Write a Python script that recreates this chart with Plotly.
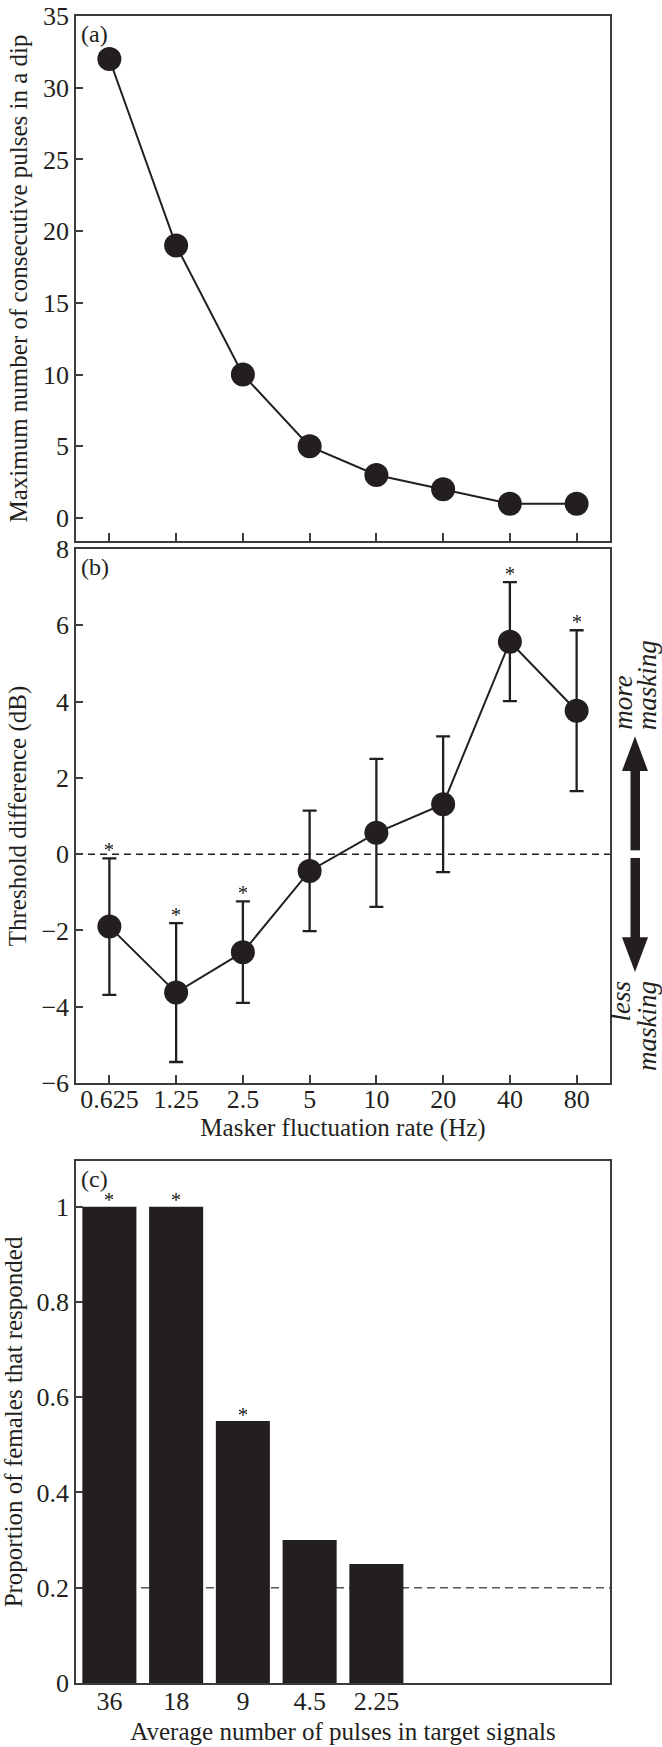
import plotly.graph_objects as go

# ---------------- data ----------------
rates = ["0.625", "1.25", "2.5", "5", "10", "20", "40", "80"]
max_pulses = [32, 19, 10, 5, 3, 2, 1, 1]

thresh_diff = [-1.90, -3.63, -2.57, -0.44, 0.56, 1.31, 5.57, 3.76]
thresh_err = [1.79, 1.82, 1.33, 1.58, 1.94, 1.78, 1.56, 2.11]
thresh_sig = [True, True, True, False, False, False, True, True]

pulses = ["36", "18", "9", "4.5", "2.25"]
prop_resp = [1.0, 1.0, 0.55, 0.30, 0.25]
prop_sig = [True, True, True, False, False]
chance_level = 0.2

# ---------------- style ----------------
W, H = 662, 1747
ML, MR, MT, MB = 76, 52, 16, 64
INK = "#231f20"
AX = "#3c3c3c"
FONT = "Liberation Serif"
TICK_SIZE = 26
TITLE_SIZE = 25

plot_h = H - MT - MB


def py(pix):
    return (H - MB - pix) / plot_h


def px(pix):
    return (pix - ML) / (W - ML - MR)


dom_a = [py(541), 1.0]
dom_b = [py(1083), py(549)]
dom_c = [0.0, py(1161)]

fig = go.Figure()

# panel (a)
fig.add_trace(go.Scatter(
    x=rates, y=max_pulses, mode="lines+markers",
    line=dict(color=INK, width=2),
    marker=dict(color=INK, size=24),
    xaxis="x", yaxis="y", showlegend=False))

# panel (b)
fig.add_trace(go.Scatter(
    x=rates, y=thresh_diff, mode="lines+markers",
    line=dict(color=INK, width=2),
    marker=dict(color=INK, size=24),
    error_y=dict(type="data", array=thresh_err, visible=True,
                 color=INK, thickness=2.3, width=7),
    xaxis="x2", yaxis="y2", showlegend=False))

# panel (c)
fig.add_trace(go.Bar(
    x=pulses, y=prop_resp, marker=dict(color=INK, line=dict(width=0)),
    width=0.81, xaxis="x3", yaxis="y3", showlegend=False))

# asterisks (category index positions)
star_font = dict(family=FONT, size=22, color=INK)
for i, (yi, ei, s) in enumerate(zip(thresh_diff, thresh_err, thresh_sig)):
    if s:
        fig.add_annotation(x=i, y=yi + ei, xref="x2", yref="y2", text="*",
                           showarrow=False, yanchor="middle", yshift=9,
                           width=8, font=star_font)
for i, (yi, s) in enumerate(zip(prop_resp, prop_sig)):
    if s:
        fig.add_annotation(x=i, y=yi, xref="x3", yref="y3", text="*",
                           showarrow=False, yanchor="middle", yshift=7,
                           width=8, font=star_font)

# reference lines
fig.add_shape(type="line", xref="x2 domain", yref="y2", x0=0, x1=1, y0=0, y1=0,
              line=dict(color=INK, width=1.5, dash="7px,5px"), layer="below")
fig.add_shape(type="line", xref="x3 domain", yref="y3", x0=0, x1=1,
              y0=chance_level, y1=chance_level,
              line=dict(color="#555555", width=1.5, dash="8px,5px"), layer="below")

# panel labels
for lab, dom in (("(a)", dom_a), ("(b)", dom_b), ("(c)", dom_c)):
    fig.add_annotation(x=px(79), y=dom[1], xref="paper", yref="paper", text=lab,
                       showarrow=False, xanchor="left", yanchor="top", yshift=-3,
                       font=dict(family=FONT, size=24, color=INK))

# masking arrows (panel b, right side)
ax0, ax1 = px(622), px(648)
sx0, sx1 = px(630.5), px(640)
up_tip, up_base, up_end = 3.09, 2.18, 0.1
fig.add_shape(type="path", xref="paper", yref="y2",
              path=f"M {ax0} {up_base} L {(ax0+ax1)/2} {up_tip} L {ax1} {up_base} Z",
              fillcolor=INK, line=dict(width=0))
fig.add_shape(type="rect", xref="paper", yref="y2", x0=sx0, x1=sx1,
              y0=up_end, y1=up_base + 0.02, fillcolor=INK, line=dict(width=0))
dn_tip, dn_base, dn_end = -3.09, -2.18, -0.1
fig.add_shape(type="path", xref="paper", yref="y2",
              path=f"M {ax0} {dn_base} L {(ax0+ax1)/2} {dn_tip} L {ax1} {dn_base} Z",
              fillcolor=INK, line=dict(width=0))
fig.add_shape(type="rect", xref="paper", yref="y2", x0=sx0, x1=sx1,
              y0=dn_base - 0.02, y1=dn_end, fillcolor=INK, line=dict(width=0))

side_font = dict(family=FONT, size=27, color=INK)
for word, xp in (("more", 623), ("masking", 647)):
    fig.add_annotation(x=px(xp), y=3.22, xref="paper", yref="y2",
                       text=f"<i>{word}</i>", textangle=-90, showarrow=False,
                       xanchor="center", yanchor="bottom", font=side_font,
                       borderpad=0)
for word, xp in (("less", 621), ("masking", 647)):
    fig.add_annotation(x=px(xp), y=-3.3, xref="paper", yref="y2",
                       text=f"<i>{word}</i>", textangle=-90, showarrow=False,
                       xanchor="center", yanchor="top", font=side_font,
                       borderpad=0)

axis_common = dict(showline=True, linecolor=AX, linewidth=1.5, mirror=True,
                   showgrid=False, zeroline=False, automargin=False,
                   tickfont=dict(family=FONT, size=TICK_SIZE, color=INK))

fig.update_layout(
    width=W, height=H,
    margin=dict(l=ML, r=MR, t=MT, b=MB),
    paper_bgcolor="white", plot_bgcolor="white",
    xaxis=dict(axis_common, domain=[0, 1], anchor="y", range=[-0.5, 7.5],
               type="category",
               ticks="inside", ticklen=8, tickwidth=1.5, tickcolor=AX,
               showticklabels=False, categoryorder="array", categoryarray=rates),
    yaxis=dict(axis_common, domain=dom_a, anchor="x", range=[-1.6, 35],
               tickvals=[0, 5, 10, 15, 20, 25, 30, 35],
               ticks="inside", ticklen=7, tickwidth=1.5, tickcolor=AX,
               title=dict(text="Maximum number of consecutive pulses in a dip",
                          font=dict(family=FONT, size=TITLE_SIZE, color=INK),
                          standoff=8)),
    xaxis2=dict(axis_common, domain=[0, 1], anchor="y2", range=[-0.5, 7.5],
                type="category", ticklabelstandoff=-8,
                ticks="inside", ticklen=8, tickwidth=1.5, tickcolor=AX,
                categoryorder="array", categoryarray=rates,
                title=dict(text="Masker fluctuation rate (Hz)",
                           font=dict(family=FONT, size=TITLE_SIZE, color=INK),
                           standoff=4)),
    yaxis2=dict(axis_common, domain=dom_b, anchor="x2", range=[-6, 8],
                tickvals=[-6, -4, -2, 0, 2, 4, 6, 8],
                ticktext=["\u22126", "\u22124", "\u22122", "0", "2", "4", "6", "8"],
                ticks="inside", ticklen=7, tickwidth=1.5, tickcolor=AX,
                title=dict(text="Threshold difference (dB)",
                           font=dict(family=FONT, size=TITLE_SIZE, color=INK),
                           standoff=8)),
    xaxis3=dict(axis_common, domain=[0, 1], anchor="y3", range=[-0.5, 7.5],
                type="category", ticklabelstandoff=-6,
                ticks="", categoryorder="array", categoryarray=pulses,
                title=dict(text="Average number of pulses in target signals",
                           font=dict(family=FONT, size=TITLE_SIZE, color=INK),
                           standoff=8)),
    yaxis3=dict(axis_common, domain=dom_c, anchor="x3", range=[0, 1.096],
                tickvals=[0, 0.2, 0.4, 0.6, 0.8, 1],
                ticktext=["0", "0.2", "0.4", "0.6", "0.8", "1"],
                ticks="inside", ticklen=7, tickwidth=1.5, tickcolor=AX,
                title=dict(text="Proportion of females that responded",
                           font=dict(family=FONT, size=TITLE_SIZE, color=INK),
                           standoff=8)),
)

fig.write_html("out.html", config={"displayModeBar": False},
               post_script="document.body.style.margin='0';"
                           "document.body.style.padding='0';"
                           "document.body.style.overflow='hidden';")
